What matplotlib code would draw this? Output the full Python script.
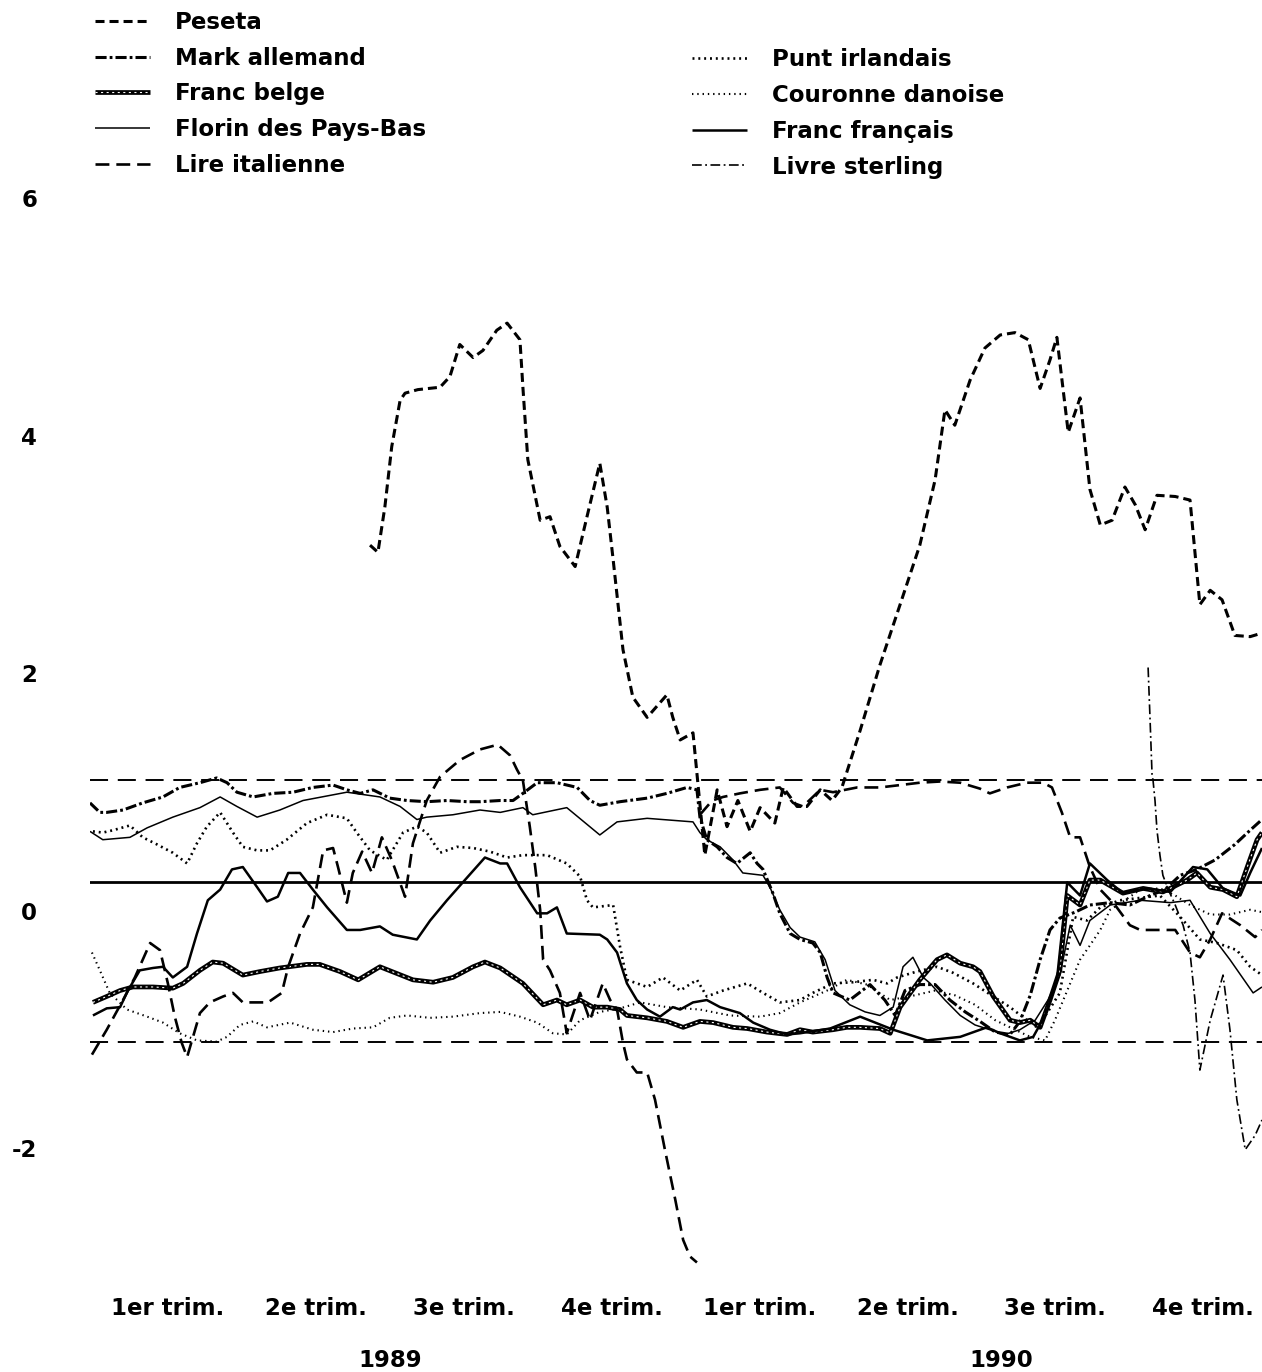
import numpy as np
import matplotlib.pyplot as plt
from matplotlib.legend_handler import HandlerTuple

plt.rcParams['font.family'] = ['DejaVu Sans']
plt.rcParams['font.weight'] = 'bold'
plt.rcParams['lines.scale_dashes'] = False

# time axis: months since January 1989
quarter_mid = [1.5, 4.5, 7.5, 10.5, 13.5, 16.5, 19.5, 22.5]
quarter_labels = ['1er trim.', '2e trim.', '3e trim.', '4e trim.'] * 2
years = ['1989', '1990']
year_pos = [6.0, 18.4]
yticks = [-2, 0, 2, 4, 6]
ytick_labels = ['-2', '0', '2', '4', '6']

band = [1.1, -1.1]
center_line = 0.24

peseta_m = [5.60, 5.76, 5.90, 6.04, 6.21, 6.31, 6.57, 7.02, 7.22, 7.42, 7.69, 7.89, 8.17, 8.38, 8.64,
            8.70, 8.80, 9.05, 9.25, 9.45, 9.76, 10.00, 10.26, 10.41, 10.53, 10.73, 10.93, 11.22, 11.62,
            11.74, 11.89, 12.15, 12.39, 12.64, 12.84, 13.06, 13.31, 13.51, 13.81, 13.98, 14.26, 14.46,
            14.73, 14.97, 15.17, 15.54, 15.94, 16.35, 16.75, 17.06, 17.26, 17.46, 17.77, 18.07, 18.38,
            18.68, 18.95, 19.19, 19.39, 19.53, 19.76, 20.00, 20.20, 20.41, 20.65, 20.91, 21.12, 21.32,
            21.56, 21.93, 22.23, 22.43, 22.64, 22.88, 23.14, 23.45, 23.69]
peseta_v = [3.08, 3.02, 3.40, 3.91, 4.30, 4.36, 4.39, 4.41, 4.50, 4.77, 4.66, 4.72, 4.89, 4.95, 4.81,
            4.41, 3.80, 3.29, 3.32, 3.07, 2.90, 3.32, 3.77, 3.40, 2.96, 2.20, 1.80, 1.63, 1.82,
            1.63, 1.44, 1.50, 0.47, 1.02, 0.71, 0.93, 0.67, 0.87, 0.74, 1.04, 0.88, 0.88,
            1.02, 0.93, 1.04, 1.52, 2.07, 2.58, 3.08, 3.63, 4.22, 4.09, 4.47, 4.74, 4.85,
            4.87, 4.81, 4.40, 4.64, 4.83, 4.03, 4.32, 3.55, 3.25, 3.29, 3.57, 3.42, 3.21,
            3.50, 3.49, 3.46, 2.58, 2.70, 2.62, 2.32, 2.31, 2.34]

mark_m = [-0.08, 0.12, 0.26, 0.59, 0.99, 1.40, 1.74, 2.15, 2.49, 2.70, 2.90, 3.23, 3.63, 4.04, 4.44,
          4.85, 5.13, 5.40, 5.66, 6.00, 6.35, 6.75, 7.16, 7.57, 7.83, 8.24, 8.50, 8.70, 8.99, 9.39,
          9.80, 10.06, 10.26, 10.67, 11.22, 11.62, 12.03, 12.23, 12.29, 12.43, 12.64, 12.84, 13.04,
          13.31, 13.45, 13.57, 13.77, 13.91, 14.12, 14.32, 14.58, 14.73, 14.87, 14.99, 15.33, 15.74,
          16.04, 16.25, 16.45, 16.75, 17.06, 17.36, 17.67, 17.97, 18.28, 18.58, 18.78, 18.99, 19.19,
          19.39, 19.59, 19.90, 20.20, 20.61, 21.01, 21.42, 21.72, 22.03, 22.37, 22.74, 23.14, 23.45, 23.69]
mark_v = [0.91, 0.83, 0.83, 0.85, 0.91, 0.96, 1.04, 1.08, 1.12, 1.08, 1.00, 0.96, 0.99, 1.00, 1.04,
          1.06, 1.02, 0.99, 1.02, 0.95, 0.93, 0.92, 0.93, 0.92, 0.92, 0.93, 0.93, 0.99, 1.08, 1.08,
          1.04, 0.93, 0.89, 0.92, 0.95, 0.99, 1.04, 1.02, 0.79, 0.60, 0.54, 0.45, 0.40,
          0.49, 0.40, 0.35, 0.15, -0.02, -0.19, -0.24, -0.27, -0.35, -0.56, -0.69, -0.75, -0.62,
          -0.75, -0.88, -0.67, -0.62, -0.62, -0.75, -0.85, -0.93, -1.02, -1.04, -0.93, -0.71, -0.41,
          -0.16, -0.06, -0.01, 0.05, 0.07, 0.05, 0.13, 0.18, 0.30, 0.35, 0.43, 0.56, 0.68, 0.77]

belge_m = [-0.02, 0.26, 0.53, 0.79, 1.20, 1.60, 1.81, 2.15, 2.41, 2.62, 3.02, 3.37, 3.77, 4.32, 4.58,
           4.99, 5.36, 5.80, 6.47, 6.88, 7.28, 7.69, 7.93, 8.24, 8.70, 9.11, 9.39, 9.59, 9.86, 10.12,
           10.41, 10.67, 10.81, 11.22, 11.62, 11.95, 12.29, 12.56, 12.96, 13.25, 13.65, 14.06, 14.32,
           14.58, 14.99, 15.27, 15.54, 15.94, 16.15, 16.35, 16.75, 17.10, 17.30, 17.57, 17.83, 17.97,
           18.24, 18.58, 18.78, 18.99, 19.19, 19.39, 19.59, 19.74, 20.00, 20.20, 20.41, 20.87, 21.28,
           21.68, 22.17, 22.37, 22.64, 22.90, 23.18, 23.39, 23.59, 23.69]
belge_v = [-0.77, -0.72, -0.67, -0.64, -0.64, -0.65, -0.61, -0.50, -0.43, -0.44, -0.54, -0.51, -0.48,
           -0.45, -0.45, -0.51, -0.58, -0.47, -0.58, -0.60, -0.56, -0.47, -0.43, -0.48, -0.61, -0.79,
           -0.75, -0.79, -0.75, -0.81, -0.81, -0.83, -0.88, -0.90, -0.93, -0.98, -0.93, -0.94, -0.98,
           -0.99, -1.02, -1.04, -1.00, -1.02, -1.00, -0.98, -0.98, -0.99, -1.03, -0.81, -0.58, -0.41,
           -0.37, -0.44, -0.47, -0.51, -0.72, -0.92, -0.94, -0.92, -0.98, -0.75, -0.50, 0.13, 0.05,
           0.26, 0.26, 0.15, 0.19, 0.16, 0.26, 0.32, 0.20, 0.18, 0.12, 0.37, 0.60, 0.66]

florin_m = [-0.08, 0.18, 0.73, 1.08, 1.60, 2.15, 2.56, 2.90, 3.31, 3.77, 4.24, 5.13, 5.80, 6.21, 6.55,
            6.75, 7.28, 7.83, 8.24, 8.70, 8.90, 9.59, 10.26, 10.61, 11.22, 12.15, 12.29, 12.43, 12.70,
            12.96, 13.16, 13.57, 13.71, 13.91, 14.12, 14.32, 14.62, 14.83, 15.03, 15.33, 15.64, 15.94,
            16.21, 16.41, 16.61, 16.82, 16.96, 17.26, 17.57, 17.87, 18.17, 18.48, 18.78, 19.09, 19.35,
            19.59, 19.80, 20.00, 20.20, 20.61, 21.22, 21.83, 22.23, 22.64, 23.04, 23.51, 23.69]
florin_v = [0.67, 0.60, 0.62, 0.70, 0.79, 0.87, 0.96, 0.88, 0.79, 0.85, 0.93, 1.00, 0.96, 0.88, 0.77,
            0.79, 0.81, 0.85, 0.83, 0.87, 0.81, 0.87, 0.64, 0.75, 0.78, 0.75, 0.66, 0.60, 0.54,
            0.43, 0.32, 0.30, 0.20, 0.01, -0.14, -0.22, -0.26, -0.41, -0.67, -0.79, -0.85, -0.88,
            -0.81, -0.47, -0.39, -0.56, -0.61, -0.75, -0.88, -0.96, -1.00, -1.04, -1.00, -0.92, -0.75,
            -0.54, -0.12, -0.29, -0.08, 0.05, 0.09, 0.07, 0.09, -0.19, -0.41, -0.69, -0.64]

# the lira changes band in January 1990, so it is drawn in two pieces
lira89_m = [-0.04, 0.26, 0.59, 0.83, 1.14, 1.34, 1.50, 1.64, 1.78, 1.89, 2.01, 2.15, 2.35, 2.62, 2.82,
            3.02, 3.31, 3.53, 3.81, 3.94, 4.18, 4.44, 4.65, 4.85, 4.95, 5.13, 5.25, 5.44, 5.64, 5.84,
            6.04, 6.31, 6.47, 6.75, 7.02, 7.42, 7.83, 8.19, 8.44, 8.58, 8.70, 8.84, 8.95, 9.05, 9.11,
            9.25, 9.45, 9.59, 9.66, 9.86, 10.06, 10.32, 10.47, 10.61, 10.73, 10.81, 11.01, 11.22,
            11.38, 11.58, 11.79, 11.95, 12.09, 12.23]
lira89_v = [-1.21, -1.00, -0.75, -0.56, -0.27, -0.33, -0.61, -0.89, -1.11, -1.23, -1.06, -0.86, -0.77,
            -0.72, -0.69, -0.77, -0.77, -0.77, -0.69, -0.47, -0.19, 0.03, 0.51, 0.53, 0.37, 0.07, 0.32,
            0.50, 0.32, 0.62, 0.43, 0.12, 0.57, 0.93, 1.13, 1.27, 1.36, 1.40, 1.31, 1.19, 1.10, 0.71,
            0.37, 0.01, -0.41, -0.50, -0.69, -1.03, -0.94, -0.69, -0.92, -0.61, -0.75, -0.83, -1.11,
            -1.25, -1.36, -1.36, -1.59, -2.01, -2.43, -2.77, -2.91, -2.96]
lira90_m = [12.29, 12.54, 12.76, 13.10, 13.51, 13.91, 14.18, 14.38, 14.73, 14.99, 15.48, 15.94, 16.35,
            16.75, 17.16, 17.57, 17.97, 18.17, 18.52, 18.92, 19.25, 19.43, 19.63, 19.80, 20.00, 20.20,
            20.41, 20.71, 21.01, 21.22, 21.93, 22.23, 22.43, 22.64, 22.88, 23.25, 23.55, 23.69]
lira90_v = [0.81, 0.93, 0.96, 0.99, 1.02, 1.04, 0.91, 0.88, 1.02, 1.00, 1.04, 1.04, 1.06, 1.08, 1.09,
            1.08, 1.03, 0.99, 1.04, 1.08, 1.08, 1.04, 0.83, 0.62, 0.62, 0.37, 0.18, 0.05, -0.12, -0.16,
            -0.16, -0.35, -0.39, -0.24, -0.02, -0.12, -0.22, -0.16]

punt_m = [-0.02, 0.18, 0.39, 0.73, 0.99, 1.28, 1.60, 1.89, 2.09, 2.29, 2.56, 2.82, 3.02, 3.31, 3.57,
          3.91, 4.32, 4.73, 5.13, 5.33, 5.60, 5.94, 6.27, 6.55, 6.75, 7.02, 7.36, 7.69, 8.03, 8.38,
          8.70, 9.19, 9.59, 9.86, 10.00, 10.12, 10.53, 10.67, 10.81, 11.22, 11.54, 11.89, 12.23,
          12.43, 12.76, 13.25, 13.57, 13.91, 14.32, 14.58, 14.99, 15.40, 15.80, 16.09, 16.29, 16.69,
          17.10, 17.42, 17.83, 18.24, 18.58, 18.92, 19.13, 19.33, 19.59, 19.86, 20.14, 20.41, 20.81,
          21.22, 21.62, 22.03, 22.43, 22.78, 23.18, 23.45, 23.69]
punt_v = [0.67, 0.66, 0.68, 0.72, 0.62, 0.56, 0.49, 0.40, 0.57, 0.71, 0.83, 0.66, 0.54, 0.51, 0.51,
          0.60, 0.74, 0.81, 0.78, 0.66, 0.51, 0.43, 0.66, 0.71, 0.66, 0.49, 0.54, 0.53, 0.50, 0.45,
          0.47, 0.47, 0.40, 0.29, 0.09, 0.03, 0.05, -0.30, -0.58, -0.64, -0.56, -0.67, -0.58,
          -0.72, -0.67, -0.61, -0.69, -0.77, -0.75, -0.69, -0.61, -0.60, -0.58, -0.61, -0.56, -0.51,
          -0.47, -0.52, -0.61, -0.72, -0.81, -0.92, -0.98, -0.86, -0.69, -0.05, -0.08, 0.03, 0.09,
          0.11, 0.13, -0.05, -0.24, -0.27, -0.33, -0.47, -0.54]

couronne_m = [-0.04, 0.12, 0.32, 0.67, 1.08, 1.40, 1.74, 2.09, 2.49, 2.70, 2.96, 3.23, 3.51, 3.98,
              4.44, 4.85, 5.25, 5.66, 6.00, 6.35, 6.82, 7.28, 7.83, 8.24, 8.64, 8.99, 9.31, 9.59,
              9.86, 10.26, 10.67, 11.08, 11.62, 12.29, 12.90, 13.51, 13.91, 14.32, 14.87, 15.27,
              15.68, 16.15, 16.65, 17.06, 17.46, 17.87, 18.28, 18.68, 18.99, 19.29, 19.49, 19.74,
              20.00, 20.20, 20.41, 20.61, 20.91, 21.22, 21.62, 21.93, 22.23, 22.64, 23.04, 23.45, 23.69]
couronne_v = [-0.35, -0.50, -0.69, -0.83, -0.89, -0.94, -1.03, -1.09, -1.10, -1.06, -0.96, -0.93,
              -0.98, -0.94, -1.00, -1.02, -0.99, -0.98, -0.90, -0.88, -0.90, -0.89, -0.86, -0.85,
              -0.89, -0.94, -1.03, -1.04, -0.92, -0.85, -0.82, -0.77, -0.81, -0.83, -0.88, -0.89,
              -0.86, -0.77, -0.67, -0.58, -0.62, -0.75, -0.71, -0.67, -0.71, -0.79, -0.92, -1.00,
              -1.06, -1.09, -0.92, -0.67, -0.41, -0.29, -0.16, 0.01, 0.09, 0.18, 0.19, 0.13, 0.05,
              -0.03, -0.03, 0.01, -0.01]

ff_m = [-0.02, 0.26, 0.53, 0.69, 0.93, 1.20, 1.40, 1.60, 1.89, 2.09, 2.31, 2.56, 2.80, 3.02, 3.31,
        3.51, 3.73, 3.94, 4.18, 4.44, 4.73, 5.13, 5.40, 5.80, 6.06, 6.55, 6.82, 7.16, 7.48, 7.93,
        8.24, 8.38, 8.64, 8.99, 9.19, 9.39, 9.59, 10.26, 10.41, 10.61, 10.81, 11.01, 11.22, 11.48,
        11.74, 11.89, 12.15, 12.43, 12.70, 13.10, 13.37, 13.71, 14.06, 14.32, 14.93, 15.54, 16.21,
        16.90, 17.57, 18.11, 18.38, 18.78, 19.05, 19.29, 19.53, 19.74, 20.00, 20.20, 20.55, 20.87,
        21.36, 21.83, 22.29, 22.58, 22.90, 23.25, 23.45, 23.69]
ff_v = [-0.88, -0.82, -0.81, -0.67, -0.50, -0.48, -0.47, -0.56, -0.47, -0.19, 0.09, 0.18, 0.35, 0.37,
        0.20, 0.08, 0.12, 0.32, 0.32, 0.18, 0.03, -0.16, -0.16, -0.13, -0.20, -0.24, -0.08, 0.09,
        0.24, 0.45, 0.40, 0.40, 0.20, -0.02, -0.02, 0.03, -0.19, -0.20, -0.24, -0.35, -0.61, -0.75,
        -0.83, -0.89, -0.81, -0.83, -0.77, -0.75, -0.81, -0.86, -0.94, -1.00, -1.04, -1.03, -0.99,
        -0.89, -1.00, -1.09, -1.06, -0.98, -1.03, -1.09, -1.06, -0.88, -0.58, 0.24, 0.13, 0.40,
        0.26, 0.15, 0.19, 0.16, 0.37, 0.35, 0.19, 0.13, 0.32, 0.53]

sterling_m = [21.38, 21.42, 21.46, 21.48, 21.52, 21.56, 21.62, 21.68, 21.79, 21.93, 22.09, 22.23,
              22.33, 22.43, 22.64, 22.90, 23.04, 23.18, 23.35, 23.55, 23.69]
sterling_v = [2.05, 1.61, 1.15, 1.10, 0.93, 0.68, 0.47, 0.30, 0.18, 0.05, -0.12, -0.35, -0.75, -1.34,
              -0.92, -0.54, -1.00, -1.59, -2.01, -1.89, -1.76]

fs = 16.5
fig = plt.figure(figsize=(12.62, 13.72), dpi=100)
ax = fig.add_axes([0.0713, 0.0671, 0.9287, 0.8236])

ax.axhline(center_line, color='black', lw=2.0, zorder=1)
for b in band:
    ax.axhline(b, color='black', lw=1.4, dashes=(13, 7), zorder=1)

k = dict(color='black', solid_capstyle='butt', dash_capstyle='butt')
l_pes, = ax.plot(peseta_m, peseta_v, lw=2.2, dashes=(6.5, 3.6), **k)
l_mark, = ax.plot(mark_m, mark_v, lw=2.2, dashes=(8, 2.2, 2, 2.2), **k)
l_bel, = ax.plot(belge_m, belge_v, lw=3.4, **k)
l_bel2, = ax.plot(belge_m, belge_v, color='white', lw=0.8, dashes=(1.5, 2.5))
l_flo, = ax.plot(florin_m, florin_v, lw=1.1, **k)
l_lir, = ax.plot(lira89_m, lira89_v, lw=1.9, dashes=(10, 5), **k)
ax.plot(lira90_m, lira90_v, lw=1.9, dashes=(10, 5), **k)
l_pun, = ax.plot(punt_m, punt_v, lw=1.9, dashes=(1.4, 2.8), **k)
l_cou, = ax.plot(couronne_m, couronne_v, lw=1.5, dashes=(1.0, 2.8), **k)
l_ff, = ax.plot(ff_m, ff_v, lw=1.8, **k)
l_ste, = ax.plot(sterling_m, sterling_v, lw=1.2, dashes=(7, 2.5, 1.3, 2.5), **k)

ax.set_xlim(-0.08, 23.69)
ax.set_ylim(-3.107, 6.408)
for s in ax.spines.values():
    s.set_visible(False)

ax.set_yticks(yticks)
ax.set_yticklabels(ytick_labels)
ax.set_xticks(quarter_mid)
ax.set_xticklabels(quarter_labels)
ax.tick_params(axis='y', length=0, pad=38, labelsize=fs)
ax.tick_params(axis='x', length=0, pad=12, labelsize=fs)

for yr, pos in zip(years, year_pos):
    ax.text(pos, -0.071, yr, transform=ax.get_xaxis_transform(),
            ha='center', va='center', fontsize=fs, fontweight='bold')

leg_kw = dict(loc='upper left', frameon=False, borderpad=0, borderaxespad=0,
              handlelength=2.4, handletextpad=1.1, labelspacing=0.56, fontsize=fs,
              handler_map={tuple: HandlerTuple(ndivide=1)})
leg1 = fig.legend([l_pes, l_mark, (l_bel, l_bel2), l_flo, l_lir],
                  ['Peseta', 'Mark allemand', 'Franc belge', 'Florin des Pays-Bas', 'Lire italienne'],
                  bbox_to_anchor=(0.0753, 0.9922), **leg_kw)
leg2 = fig.legend([l_pun, l_cou, l_ff, l_ste],
                  ['Punt irlandais', 'Couronne danoise', 'Franc français', 'Livre sterling'],
                  bbox_to_anchor=(0.5485, 0.9650), **leg_kw)

fig.savefig('out.png', dpi=100)
